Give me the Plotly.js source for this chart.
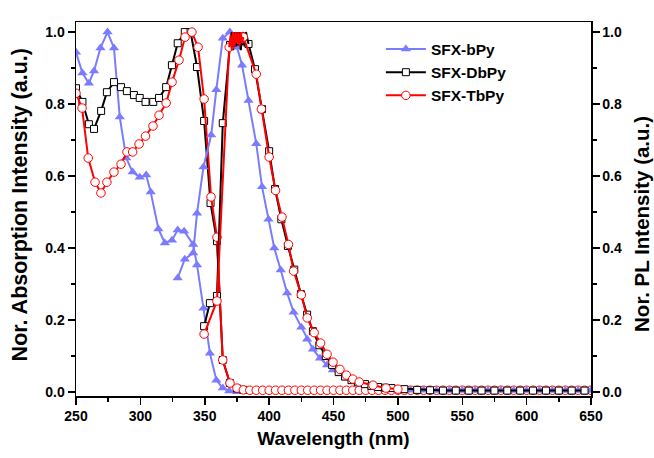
<!DOCTYPE html>
<html>
<head>
<meta charset="utf-8">
<script src="https://cdn.plot.ly/plotly-3.0.1.min.js"></script>
<style>html,body{margin:0;padding:0;background:#fff;}#chart{width:654px;height:458px;}</style>
</head>
<body>
<div id="chart"></div>
<script>
// ---- Data ----
const seriesNames = ["SFX-bPy", "SFX-DbPy", "SFX-TbPy"];
const xTitle = "Wavelength (nm)";
const yTitleLeft = "Nor. Absorption Intensity (a.u.)";
const yTitleRight = "Nor. PL Intensity (a.u.)";

// SFX-bPy absorption
const bAbsX = [250,255,260,264,269,274.5,279.5,284,289,294,299.5,304.5,308,314,319,324.5,329,334,341,344,349,354,359,364,369,375];
const bAbsY = [0.944,0.886,0.858,0.892,0.956,1.0,0.956,0.764,0.65,0.611,0.597,0.603,0.556,0.453,0.414,0.422,0.45,0.447,0.41,0.353,0.233,0.108,0.033,0.011,0.003,0.001];
// SFX-bPy PL
const bPLX = [329,334.5,341,344,349,355,359,364,369.5,375,379,384,390,394.5,399.5,404,409,414,419,425,429.5,434,439.5,445,449.5,455,460,465,470,475,480,485,490,495,500,510,520,530,540,550,560,570,580,590,600,610,620,630,640,650];
const bPLY = [0.317,0.369,0.386,0.497,0.625,0.714,0.84,0.983,1.0,0.958,0.908,0.81,0.69,0.57,0.48,0.40,0.339,0.275,0.222,0.18,0.147,0.119,0.094,0.075,0.061,0.05,0.039,0.03,0.023,0.018,0.014,0.011,0.009,0.007,0.006,0.005,0.005,0.004,0.004,0.004,0.004,0.004,0.004,0.004,0.004,0.004,0.004,0.004,0.004,0.004];

// SFX-DbPy absorption
const dAbsX = [250,255,260,264,269.5,274,279.5,285,289.5,295,299.5,304,310,314.5,320,324.5,329,334.5,339,344,349.5,354.5,359.5,364,369.5,375,380];
const dAbsY = [0.844,0.806,0.744,0.731,0.781,0.833,0.861,0.847,0.836,0.825,0.817,0.806,0.806,0.817,0.847,0.908,0.969,1.0,1.0,0.903,0.753,0.525,0.419,0.089,0.025,0.01,0.006];
// SFX-DbPy PL
const dPLX = [349.5,354,359.5,364,369.6,384,389,394.5,400,404.6,409.5,414.6,419.5,424.7,429.5,434,439,444,449,454,459,464,469,474.5,479.5,484.6,490,495,505,515,525,535,545,555,565,575,585,595,605,615,625,635,645];
const dPLY = [0.183,0.247,0.267,0.747,0.964,0.967,0.897,0.786,0.669,0.564,0.48,0.406,0.34,0.272,0.215,0.169,0.13,0.1,0.075,0.056,0.043,0.033,0.027,0.022,0.017,0.014,0.012,0.011,0.008,0.006,0.005,0.004,0.004,0.004,0.004,0.004,0.004,0.004,0.004,0.004,0.004,0.004,0.004];
// SFX-DbPy PL peak (noisy top, line only)
const dPeakX = [369.6,371,372,373,374,375,376,377,378,379,380,381,382,383,384];
const dPeakY = [0.964,1.0,0.95,1.0,0.96,1.0,0.97,1.0,0.95,0.99,1.0,0.96,1.0,0.98,0.967];

// SFX-TbPy absorption
const tAbsX = [250,254.7,259.5,264.8,269.4,274,279.5,285,289.6,294,299,304,309.8,314.5,320,324.6,330,334.7,340,344.8,349.5,354.9,359.5,364,369.6,375,380,385,390,395,400,405,410,415,420,425,430,435,440,445,450,455,460,465,470,475,480,485,490,495,500,505,510,515,520,525,530,535,540,545,550,555,560,565,570,575,580,585,590,595,600,605,610,615,620,625,630,635,640,645,650];
const tAbsY = [0.83,0.789,0.65,0.583,0.553,0.583,0.611,0.633,0.667,0.667,0.689,0.711,0.739,0.769,0.803,0.861,0.922,0.986,1.0,0.958,0.814,0.542,0.43,0.089,0.025,0.011,0.006,0.005,0.005,0.005,0.005,0.005,0.005,0.005,0.005,0.005,0.005,0.005,0.005,0.005,0.005,0.005,0.005,0.005,0.005,0.005,0.005,0.005,0.005,0.005,0.005,0.005,0.005,0.005,0.005,0.005,0.005,0.005,0.005,0.005,0.005,0.005,0.005,0.005,0.005,0.005,0.005,0.005,0.005,0.005,0.005,0.005,0.005,0.005,0.005,0.005,0.005,0.005,0.005,0.005,0.005];
// SFX-TbPy PL
const tPLX = [349.5,359.5,369,380,390,394,400,405,410,415,419,425,429.6,435,440,445,449.6,455,460,465,470,480.7,490.8,500];
const tPLY = [0.161,0.253,0.958,0.986,0.883,0.786,0.653,0.56,0.486,0.41,0.336,0.27,0.206,0.165,0.136,0.105,0.083,0.063,0.047,0.036,0.028,0.019,0.011,0.008];
// SFX-TbPy PL peak (noisy top, line only)
const tPeakX = [369,370,371,372,373,374,375,376,377,378,379,380];
const tPeakY = [0.958,0.99,0.95,1.0,0.96,1.0,0.97,1.0,0.96,1.0,0.97,0.986];

// ---- Styles ----
const cBlue = "#7b7bff", cBlack = "#000000", cRed = "#ff0000";
const FONT = "Liberation Sans, Arial, sans-serif";

const mkB = {symbol: "triangle-up", size: 9, color: cBlue};
const mkD = {symbol: "square", size: 7, color: "#ffffff", line: {color: cBlack, width: 1}};
const mkT = {symbol: "circle", size: 8.5, color: "#ffffff", line: {color: cRed, width: 1}};

const traces = [
  {x: bAbsX, y: bAbsY, mode: "lines+markers", name: seriesNames[0], legendgroup: "b", line: {color: cBlue, width: 2}, marker: mkB},
  {x: bPLX, y: bPLY, yaxis: "y2", mode: "lines+markers", name: seriesNames[0], legendgroup: "b", showlegend: false, line: {color: cBlue, width: 2}, marker: mkB},
  {x: dAbsX, y: dAbsY, mode: "lines+markers", name: seriesNames[1], legendgroup: "d", line: {color: cBlack, width: 2}, marker: mkD},
  {x: dPLX, y: dPLY, yaxis: "y2", mode: "lines+markers", name: seriesNames[1], legendgroup: "d", showlegend: false, line: {color: cBlack, width: 2}, marker: mkD},
  {x: dPeakX, y: dPeakY, yaxis: "y2", mode: "lines", name: seriesNames[1], legendgroup: "d", showlegend: false, line: {color: cBlack, width: 2}},
  {x: tAbsX, y: tAbsY, mode: "lines+markers", name: seriesNames[2], legendgroup: "t", line: {color: cRed, width: 2}, marker: mkT},
  {x: tPLX, y: tPLY, yaxis: "y2", mode: "lines+markers", name: seriesNames[2], legendgroup: "t", showlegend: false, line: {color: cRed, width: 2}, marker: mkT},
  {x: tPeakX, y: tPeakY, yaxis: "y2", mode: "lines", name: seriesNames[2], legendgroup: "t", showlegend: false, line: {color: cRed, width: 2}}
];

const yRange = [-0.011, 1.028];
const tickFont = {family: FONT, size: 14, color: "#000", weight: "bold"};
const titleFont = {family: FONT, size: 19, color: "#000", weight: "bold"};

const axisCommon = {
  showgrid: false, zeroline: false, showline: true, linecolor: "#000", linewidth: 1.5,
  ticks: "outside", ticklen: 7, tickwidth: 1.5, tickcolor: "#000", tickfont: tickFont
};

const layout = {
  width: 654, height: 458,
  margin: {l: 76, r: 63, t: 22, b: 62, pad: 0},
  paper_bgcolor: "#ffffff", plot_bgcolor: "#ffffff",
  showlegend: true,
  legend: {x: 0.592, y: 0.972, xanchor: "left", yanchor: "top", bgcolor: "rgba(0,0,0,0)",
           font: {family: FONT, size: 15.5, color: "#000", weight: "bold"}, itemwidth: 40, tracegroupgap: 0},
  xaxis: Object.assign({}, axisCommon, {range: [250, 650], dtick: 50, tick0: 250, mirror: true,
          minor: {ticks: "outside", ticklen: 4, tickwidth: 1.5, tickcolor: "#000", dtick: 25, showgrid: false},
          title: {text: xTitle, font: titleFont, standoff: 8}}),
  yaxis: Object.assign({}, axisCommon, {range: yRange, dtick: 0.2, tick0: 0, tickformat: ".1f",
          minor: {ticks: "outside", ticklen: 4, tickwidth: 1.5, tickcolor: "#000", dtick: 0.1, showgrid: false}}),
  yaxis2: Object.assign({}, axisCommon, {range: yRange, overlaying: "y", side: "right", dtick: 0.2, tick0: 0, tickformat: ".1f",
          minor: {ticks: "outside", ticklen: 4, tickwidth: 1.5, tickcolor: "#000", dtick: 0.1, showgrid: false}}),
  annotations: [
    {text: yTitleLeft, xref: "paper", yref: "paper", x: -0.1097, y: 0.511, xanchor: "center", yanchor: "middle",
     textangle: -90, showarrow: false, font: {family: FONT, size: 21.5, color: "#000", weight: "bold"}},
    {text: yTitleRight, xref: "paper", yref: "paper", x: 1.099, y: 0.46, xanchor: "center", yanchor: "middle",
     textangle: -90, showarrow: false, font: {family: FONT, size: 20.5, color: "#000", weight: "bold"}}
  ]
};

Plotly.newPlot("chart", traces, layout, {displayModeBar: false, staticPlot: true});
</script>
</body>
</html>
